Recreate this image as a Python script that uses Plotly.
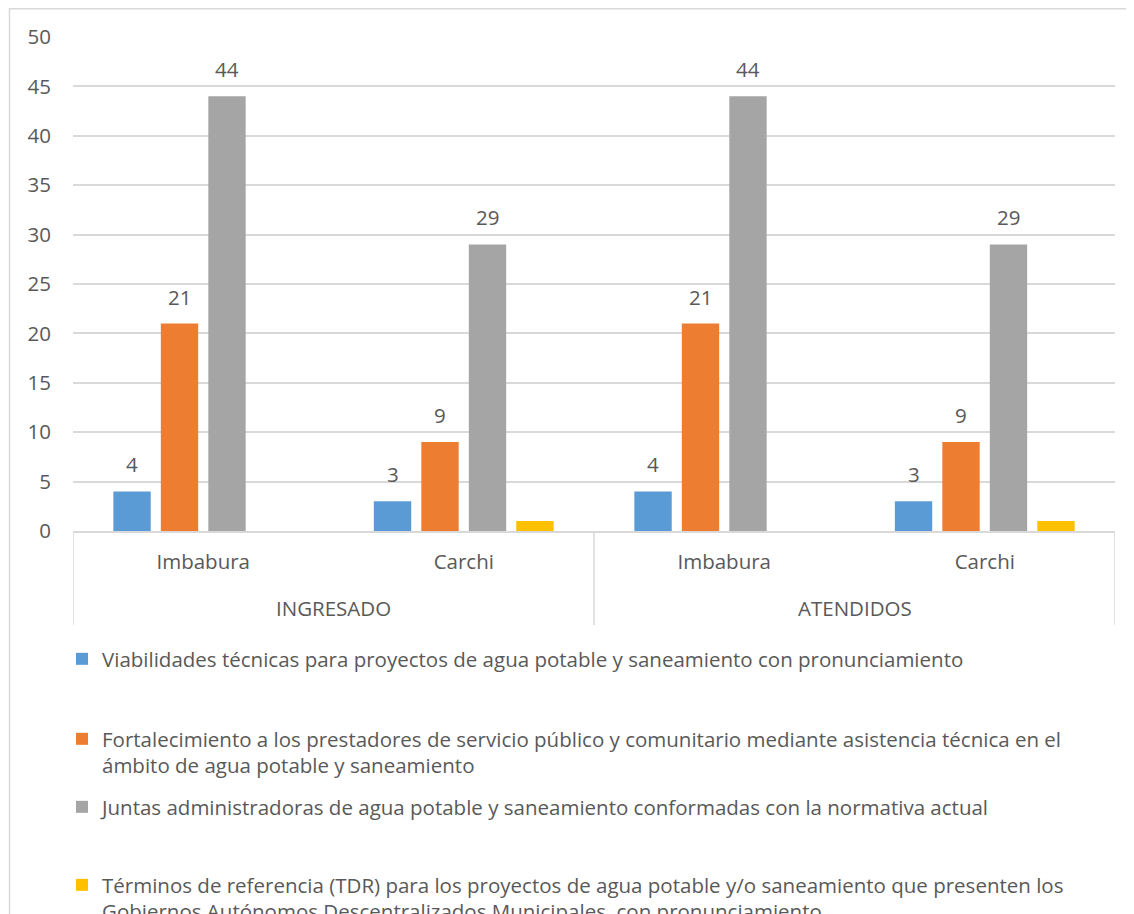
import plotly.graph_objects as go

# ---------------- data ----------------
groups = ["INGRESADO", "INGRESADO", "ATENDIDOS", "ATENDIDOS"]
provinces = ["Imbabura", "Carchi", "Imbabura", "Carchi"]

series_names = [
    "Viabilidades técnicas para proyectos de agua potable y saneamiento con pronunciamiento",
    "Fortalecimiento a los prestadores de servicio público y comunitario mediante asistencia técnica en el<br>ámbito de agua potable y saneamiento",
    "Juntas administradoras de agua potable y saneamiento conformadas con la normativa actual",
    "Términos de referencia (TDR) para los proyectos de agua potable y/o saneamiento que presenten los<br>Gobiernos Autónomos Descentralizados Municipales, con pronunciamiento",
]
viabilidades = [4, 3, 4, 3]
fortalecimiento = [21, 9, 21, 9]
juntas = [44, 29, 44, 29]
tdr = [None, 1, None, 1]
show_labels = [True, True, True, False]

# ---------------- style ----------------
colors = ["#5B9BD5", "#ED7D31", "#A5A5A5", "#FFC000"]
FONT = "Open Sans"
FS = 20.5
TXT = "#595959"
GRID = "#D9D9D9"
BARGAP = 0.271
BARGROUPGAP = 0.213

OFF = 8  # default page body margin
W, H = 1134 - OFF, 914 - OFF
ML = 73 - OFF
MT = 37 - OFF
MR = 1134 - 1115
MB = 914 - 531
plot_h = H - MT - MB
pw = W - ML - MR
zero_px = 531  # window px of y=0


def paper_y(win_px):
    return (zero_px - win_px) / plot_h


def paper_x(win_px):
    return (win_px - 73) / pw


legend_tops = [c - OFF - 21 for c in (660, 740, 808, 886)]

values = [viabilidades, fortalecimiento, juntas, tdr]
xs = list(range(len(provinces)))
n = len(values)

fig = go.Figure()
for i, (name, vals, col) in enumerate(zip(series_names, values, colors)):
    fig.add_trace(go.Bar(
        x=xs, y=vals, name=name, marker=dict(color=col, line=dict(width=0)),
        legend="legend" if i == 0 else f"legend{i+1}",
        hoverinfo="skip",
    ))

# data labels
slot = (1 - BARGAP) / n
annotations = []
for i, vals in enumerate(values):
    if not show_labels[i]:
        continue
    off = (i - (n - 1) / 2) * slot
    for j, v in enumerate(vals):
        if v is None:
            continue
        annotations.append(dict(
            x=xs[j] + off, y=v, xref="x", yref="y", text=str(v), showarrow=False,
            yanchor="bottom", yshift=11, font=dict(family=FONT, size=FS, color=TXT)))

# outer group labels
seen = []
for g in groups:
    if g not in seen:
        seen.append(g)
for g in seen:
    idx = [k for k, gg in enumerate(groups) if gg == g]
    annotations.append(dict(
        x=sum(idx) / len(idx), y=paper_y(608),
        xref="x", yref="paper", text=g, showarrow=False, yanchor="middle",
        font=dict(family=FONT, size=FS, color=TXT)))

# dividers
shapes = []
bounds = [-0.5] + [k + 0.5 for k in range(len(groups) - 1) if groups[k] != groups[k + 1]] + [len(groups) - 0.5]
for b in bounds:
    shapes.append(dict(type="line", xref="x", yref="paper", x0=b, x1=b, y0=0, y1=paper_y(625),
                       line=dict(color=GRID, width=1.5)))

# outer chart border
shapes.append(dict(type="rect", xref="paper", yref="paper",
                   x0=paper_x(9.5), x1=paper_x(1145),
                   y0=paper_y(930), y1=paper_y(8.8),
                   line=dict(color=GRID, width=1.5), fillcolor="rgba(0,0,0,0)", layer="below"))

layout_legends = {}
for i, top in enumerate(legend_tops):
    key = "legend" if i == 0 else f"legend{i+1}"
    layout_legends[key] = dict(
        xref="container", yref="container", x=54 / W, y=1 - top / H,
        xanchor="left", yanchor="top", bgcolor="rgba(0,0,0,0)",
        font=dict(family=FONT, size=FS, color=TXT), valign="top",
        itemclick=False, itemdoubleclick=False)

fig.update_layout(
    template="none",
    width=W, height=H,
    margin=dict(l=ML, r=MR, t=MT, b=MB, autoexpand=False),
    paper_bgcolor="white", plot_bgcolor="white",
    barmode="group", bargap=BARGAP, bargroupgap=BARGROUPGAP,
    font=dict(family=FONT, size=FS, color=TXT),
    showlegend=True,
    annotations=annotations,
    shapes=shapes,
    **layout_legends,
)
fig.update_xaxes(
    range=[-0.5, len(xs) - 0.5], tickvals=xs, ticktext=provinces,
    showgrid=False, zeroline=False, showline=True, linecolor=GRID, linewidth=1.5,
    ticks="outside", ticklen=12, tickcolor="rgba(0,0,0,0)",
    tickfont=dict(family=FONT, size=FS, color=TXT), fixedrange=True,
)
fig.update_yaxes(
    range=[0, 50], dtick=5, tick0=0, showgrid=True, gridcolor=GRID, gridwidth=1.5,
    zeroline=False, showline=False, ticks="outside", ticklen=17, tickcolor="rgba(0,0,0,0)",
    tickfont=dict(family=FONT, size=FS, color=TXT), fixedrange=True,
)

fig.write_html("out.html")
